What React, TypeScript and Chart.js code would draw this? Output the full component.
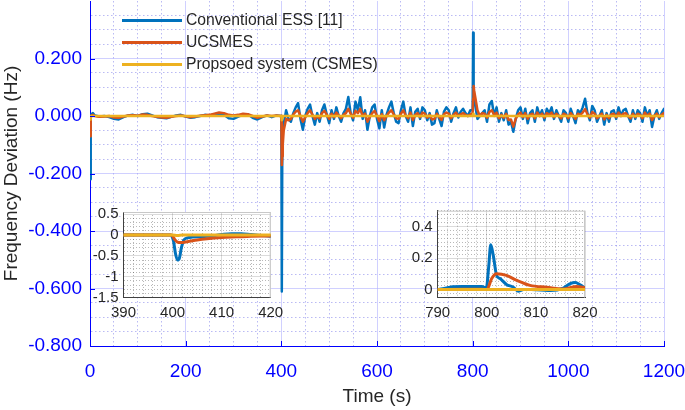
import { useEffect, useRef } from 'react';
import { Chart, registerables } from 'chart.js';

Chart.register(...registerables);

const BLUE = '#0072BD';
const ORANGE = '#D95319';
const YELLOW = '#EDB120';
const AXIS_BLUE = '#0000FF';
const TEXT = '#262626';
const FONT = "'Liberation Sans', Arial, Helvetica, sans-serif";

const legendLabels = ['Conventional ESS [11]', 'UCSMES', 'Propsoed system (CSMES)'];
const xTickLabels = [0, 200, 400, 600, 800, 1000, 1200];
const yTickLabels = [-0.8, -0.6, -0.4, -0.2, 0, 0.2];
const inset1XTicks = [390, 400, 410, 420];
const inset1YTicks = [-1.5, -1, -0.5, 0, 0.5];
const inset2XTicks = [790, 800, 810, 820];
const inset2YTicks = [0, 0.2, 0.4];

// [time (s), deviation (Hz)]
const blueMain: [number, number][] = [
  [0, -0.22], [1, -0.06], [2, 0], [4, 0.008], [6, 0.01], [10, 0.002], [20, -0.002], [30, 0], [40, -0.004],
  [50, -0.01], [60, -0.012], [70, -0.004], [80, 0.002], [90, 0.004], [100, 0], [110, 0.006], [120, 0.008],
  [130, 0.002], [140, -0.004], [150, -0.006], [160, -0.008], [170, -0.003], [180, 0.002], [190, 0.004],
  [200, -0.002], [210, -0.006], [220, -0.004], [230, 0], [240, 0.004], [250, 0.002], [260, 0.006], [270, 0.008],
  [280, 0.004], [290, -0.008], [300, -0.01], [310, -0.002], [320, 0.004], [330, 0.006], [340, -0.006],
  [350, -0.012], [360, -0.004], [370, 0.002], [380, -0.004], [390, 0.002], [399, 0],
  [400, 0], [401, -0.61], [402, -0.1], [403, -0.05], [405, -0.03],
  [410, 0.02], [415, -0.01], [420, -0.02], [425, 0.01], [430, 0.03], [435, 0.045], [440, -0.01], [445, -0.048],
  [450, 0], [455, 0.025], [460, 0.04], [465, 0], [470, -0.03], [475, 0.01], [480, -0.02], [485, 0.02],
  [490, 0.04], [495, 0.005], [500, -0.025], [505, 0.02], [510, -0.01], [515, 0.03], [520, 0], [525, -0.02],
  [530, 0.01], [535, 0.025], [540, 0.066], [545, 0.01], [550, -0.015], [555, 0.05], [560, 0.02], [565, 0.065],
  [570, -0.01], [575, 0.02], [580, -0.048], [585, 0], [590, 0.03], [595, 0.04], [600, -0.01], [605, -0.043],
  [610, 0.02], [615, -0.04], [620, 0.005], [625, 0.03], [630, 0.05], [635, 0.01], [640, -0.02], [645, -0.025],
  [650, 0.02], [655, 0.05], [660, 0], [665, -0.02], [670, 0.03], [675, -0.035], [680, 0.015], [685, 0.025],
  [690, -0.01], [695, 0.03], [700, 0.02], [705, -0.015], [710, 0.01], [715, -0.03], [720, -0.025], [725, 0.02],
  [730, -0.01], [735, -0.035], [740, 0.015], [745, 0.03], [750, 0.02], [755, -0.02], [760, 0.01], [765, 0.03],
  [770, -0.005], [775, 0.015], [780, 0.025], [785, 0.01], [790, 0], [795, 0.02],
  [800, 0.02], [801, 0.29], [802, 0.08], [803, 0.05], [805, 0.04],
  [810, -0.01], [815, 0], [820, 0.01], [825, 0.02], [830, -0.02], [835, 0.04], [840, 0.052], [845, 0],
  [850, 0.03], [855, -0.02], [860, 0.01], [865, -0.015], [870, 0.02], [875, -0.03], [880, -0.02], [885, -0.055],
  [890, -0.01], [895, 0.02], [900, 0.03], [905, -0.01], [910, 0.025], [915, -0.025], [920, 0.01], [925, 0.02],
  [930, -0.02], [935, 0.03], [940, 0], [945, 0.02], [950, -0.015], [955, 0.025], [960, 0.01], [965, 0.03],
  [970, -0.01], [975, 0.02], [980, 0], [985, -0.02], [990, 0.02], [995, 0.01], [1000, -0.02], [1005, 0.025],
  [1010, 0], [1015, -0.025], [1020, 0.02], [1025, 0.01], [1030, 0.03], [1035, 0.06], [1040, 0.01], [1045, -0.015],
  [1050, 0.035], [1055, 0.02], [1060, -0.02], [1065, 0], [1070, 0.02], [1075, -0.03], [1080, 0.01], [1085, -0.02],
  [1090, 0.015], [1095, 0.02], [1100, -0.01], [1105, 0.03], [1110, 0], [1115, 0.02], [1120, 0.025], [1125, 0],
  [1130, -0.02], [1135, 0.02], [1140, -0.01], [1145, 0.02], [1150, 0.01], [1155, -0.02], [1160, 0.03], [1165, 0],
  [1170, 0.02], [1175, -0.038], [1180, 0], [1185, 0.02], [1190, -0.01], [1195, 0.01], [1200, 0.025],
];

const orangeMain: [number, number][] = [
  [0, -0.07], [1, -0.03], [2, -0.005], [4, 0.003], [6, 0.004], [10, 0], [20, -0.003], [30, -0.002], [40, 0],
  [50, -0.005], [60, -0.006], [70, -0.002], [80, 0.002], [90, 0.003], [100, 0.001], [110, 0.005], [120, 0.004],
  [130, 0], [140, -0.003], [150, -0.005], [160, -0.006], [170, -0.003], [180, 0], [190, 0.002], [200, -0.001],
  [210, -0.004], [220, -0.002], [230, 0.001], [240, 0.003], [250, 0.004], [260, 0.008], [270, 0.012], [280, 0.01],
  [290, 0.004], [300, 0.002], [310, 0.004], [320, 0.008], [330, 0.006], [340, 0], [350, -0.006], [360, -0.002],
  [370, 0.002], [380, 0], [390, 0.002], [399, 0],
  [400, 0], [401, -0.17], [402, -0.14], [403, -0.1], [405, -0.05],
  [410, -0.01], [415, -0.015], [420, -0.01], [425, 0.005], [430, 0.015], [435, 0.02], [440, 0], [445, -0.02],
  [450, -0.005], [455, 0.01], [460, 0.02], [465, 0.005], [470, -0.01], [475, 0], [480, -0.008], [485, 0.01],
  [490, 0.018], [495, 0.005], [500, -0.01], [505, 0.008], [510, -0.004], [515, 0.012], [520, 0.002], [525, -0.008],
  [530, 0.004], [535, 0.01], [540, 0.025], [545, 0.008], [550, -0.006], [555, 0.018], [560, 0.01], [565, 0.025],
  [570, 0], [575, 0.008], [580, -0.02], [585, -0.004], [590, 0.01], [595, 0.018], [600, 0], [605, -0.018],
  [610, 0.006], [615, -0.015], [620, 0], [625, 0.012], [630, 0.02], [635, 0.006], [640, -0.008], [645, -0.01],
  [650, 0.008], [655, 0.02], [660, 0.002], [665, -0.008], [670, 0.012], [675, -0.014], [680, 0.004], [685, 0.01],
  [690, -0.004], [695, 0.012], [700, 0.008], [705, -0.006], [710, 0.004], [715, -0.012], [720, -0.01], [725, 0.008],
  [730, -0.004], [735, -0.014], [740, 0.006], [745, 0.012], [750, 0.008], [755, -0.008], [760, 0.004], [765, 0.012],
  [770, 0], [775, 0.006], [780, 0.01], [785, 0.004], [790, 0], [795, 0.005],
  [800, 0.01], [801, 0.06], [802, 0.104], [803, 0.09], [805, 0.07],
  [810, 0.02], [815, 0], [820, 0.01], [825, 0.008], [830, -0.006], [835, 0.014], [840, 0.02], [845, 0.004],
  [850, 0.012], [855, -0.008], [860, 0.004], [865, -0.006], [870, 0.008], [875, -0.014], [880, -0.012], [885, -0.037],
  [890, -0.01], [895, 0.006], [900, 0.012], [905, -0.004], [910, 0.01], [915, -0.01], [920, 0.004], [925, 0.008],
  [930, -0.008], [935, 0.012], [940, 0], [945, 0.008], [950, -0.006], [955, 0.01], [960, 0.004], [965, 0.012],
  [970, -0.004], [975, 0.008], [980, 0], [985, -0.008], [990, 0.008], [995, 0.004], [1000, -0.008], [1005, 0.01],
  [1010, 0], [1015, -0.01], [1020, 0.008], [1025, 0.004], [1030, 0.012], [1035, 0.024], [1040, 0.006], [1045, -0.006],
  [1050, 0.014], [1055, 0.008], [1060, -0.008], [1065, 0], [1070, 0.008], [1075, -0.012], [1080, 0.004], [1085, -0.008],
  [1090, 0.006], [1095, 0.008], [1100, -0.004], [1105, 0.012], [1110, 0], [1115, 0.008], [1120, 0.01], [1125, 0],
  [1130, -0.008], [1135, 0.008], [1140, -0.004], [1145, 0.008], [1150, 0.004], [1155, -0.008], [1160, 0.012], [1165, 0],
  [1170, 0.008], [1175, -0.014], [1180, 0], [1185, 0.008], [1190, -0.004], [1195, 0.004], [1200, 0.01],
];

const yellowMain: [number, number][] = [
  [0, -0.012], [1, -0.004], [2, 0], [400, 0], [401, -0.015], [402, -0.005], [403, 0],
  [800, 0], [801, 0.008], [802, 0.003], [803, 0], [1200, 0],
];

// zoomed views, 390-420 s and 790-820 s
const blueInset1: [number, number][] = [
  [390, 0], [394, 0], [398, 0], [399.6, 0], [400.2, -0.15], [400.6, -0.45], [401, -0.6], [401.4, -0.55],
  [401.8, -0.3], [402.3, -0.12], [403, -0.07], [404, -0.05], [406, -0.04], [408, -0.02], [410, 0.01],
  [412, 0.03], [414, 0.03], [416, 0.01], [418, -0.01], [420, -0.03],
];
const orangeInset1: [number, number][] = [
  [390, 0], [399.8, 0], [400.4, -0.1], [401, -0.17], [401.6, -0.18], [403, -0.16], [405, -0.12], [407, -0.09],
  [410, -0.06], [413, -0.045], [416, -0.03], [420, -0.025],
];
const yellowInset1: [number, number][] = [[390, 0], [400, 0], [401, -0.01], [402, 0], [420, 0]];

const blueInset2: [number, number][] = [
  [790, 0], [791, 0.005], [793, 0.018], [795, 0.02], [797, 0.02], [799, 0.02], [799.9, 0.01], [800.4, 0.15],
  [800.8, 0.285], [801.3, 0.22], [802, 0.09], [802.7, 0.07], [804, 0.033], [805.4, 0.015], [806.4, -0.01],
  [807.5, 0], [809, 0], [811, -0.002], [813, -0.006], [815.6, 0.01], [817, 0.038], [818, 0.045], [819, 0.03],
  [820, 0.01],
];
const orangeInset2: [number, number][] = [
  [790, 0], [795, 0.002], [799, 0.002], [800, 0], [801, 0.07], [802, 0.1], [804, 0.09], [806, 0.06],
  [808.8, 0.027], [812.2, 0.015], [815.6, 0.004], [818.3, 0.02], [820, 0.012],
];
const yellowInset2: [number, number][] = [[790, 0], [820, 0]];

const near = (v: number, list: number[]) => list.some((t) => Math.abs(v - t) < 1e-6);
const pts = (d: [number, number][]) => d.map(([x, y]) => ({ x, y }));

const lineSets = (b: [number, number][], o: [number, number][], y: [number, number][], width: number, smooth: boolean) =>
  [
    { data: pts(b), borderColor: BLUE, order: 3 },
    { data: pts(o), borderColor: ORANGE, order: 2 },
    { data: pts(y), borderColor: YELLOW, order: 1 },
  ].map((s) => ({
    ...s,
    borderWidth: width,
    pointRadius: 0,
    fill: false,
    borderJoinStyle: 'round' as const,
    borderCapStyle: 'round' as const,
    cubicInterpolationMode: smooth ? ('monotone' as const) : ('default' as const),
  }));

const inwardTicks = {
  id: 'inwardTicks',
  afterDraw(chart: Chart) {
    const { ctx, chartArea, scales } = chart;
    ctx.save();
    ctx.strokeStyle = AXIS_BLUE;
    ctx.lineWidth = 1;
    ctx.beginPath();
    xTickLabels.forEach((v) => {
      const px = Math.round(scales.x.getPixelForValue(v)) + 0.5;
      ctx.moveTo(px, chartArea.bottom);
      ctx.lineTo(px, chartArea.bottom - 5);
    });
    yTickLabels.forEach((v) => {
      const py = Math.round(scales.y.getPixelForValue(v)) + 0.5;
      ctx.moveTo(chartArea.left, py);
      ctx.lineTo(chartArea.left + 5, py);
    });
    ctx.stroke();
    ctx.restore();
  },
};

const insetBox = {
  id: 'insetBox',
  beforeDraw(chart: Chart) {
    const { ctx, chartArea: a } = chart;
    ctx.save();
    ctx.fillStyle = '#ffffff';
    ctx.fillRect(a.left, a.top, a.right - a.left, a.bottom - a.top);
    ctx.restore();
  },
  beforeDatasetsDraw(chart: Chart) {
    const { ctx, chartArea: a } = chart;
    ctx.save();
    ctx.strokeStyle = '#c8c8c8';
    ctx.lineWidth = 1;
    ctx.beginPath();
    ctx.moveTo(a.left, a.top + 0.5);
    ctx.lineTo(a.right, a.top + 0.5);
    ctx.moveTo(a.right - 0.5, a.top);
    ctx.lineTo(a.right - 0.5, a.bottom);
    ctx.stroke();
    ctx.restore();
  },
};

function insetConfig(
  b: [number, number][], o: [number, number][], y: [number, number][],
  xMin: number, xMax: number, xTicks: number[],
  yMin: number, yMax: number, yStep: number, yTicks: number[],
  padTop: number, padRight: number, axisWidth: number, axisHeight: number,
): any {
  const tickFont = { family: FONT, size: 15 };
  const gridColor = (major: number[]) => (c: any) =>
    c.tick && near(c.tick.value, major) ? 'rgba(0,0,0,0.14)' : 'rgba(0,0,0,0.28)';
  const gridDash = (major: number[]) => (c: any) => (c.tick && !near(c.tick.value, major) ? [1, 2] : []);
  return {
    type: 'line',
    data: { datasets: lineSets(b, o, y, 3, true) },
    options: {
      animation: false,
      responsive: false,
      events: [],
      layout: { padding: { left: 0, right: padRight, top: padTop, bottom: 0 } },
      plugins: { legend: { display: false }, tooltip: { enabled: false } },
      scales: {
        x: {
          type: 'linear',
          min: xMin,
          max: xMax,
          afterFit: (s: any) => { s.height = axisHeight; s.paddingLeft = 0; s.paddingRight = 0; },
          ticks: {
            stepSize: 2, autoSkip: false, maxRotation: 0, includeBounds: false, padding: 6,
            color: TEXT, font: tickFont,
            callback: (v: number) => (near(v, xTicks) ? String(v) : ''),
          },
          grid: { drawTicks: false, color: gridColor(xTicks), lineWidth: 1 },
          border: { color: '#404040', width: 1, dash: gridDash(xTicks) },
        },
        y: {
          type: 'linear',
          min: yMin,
          max: yMax,
          afterFit: (s: any) => { s.width = axisWidth; s.paddingTop = 0; s.paddingBottom = 0; },
          ticks: {
            stepSize: yStep, autoSkip: false, includeBounds: false, padding: 5,
            color: TEXT, font: tickFont,
            callback: (v: number) => (near(v, yTicks) ? String(Math.round(v * 100) / 100) : ''),
          },
          grid: { drawTicks: false, color: gridColor(yTicks), lineWidth: 1 },
          border: { color: '#404040', width: 1, dash: gridDash(yTicks) },
        },
      },
    },
    plugins: [insetBox],
  };
}

function mainConfig(): any {
  const tickFont = { family: FONT, size: 19 };
  const titleFont = { family: FONT, size: 19 };
  const major = 'rgba(170,170,255,0.55)';
  const minor = 'rgba(130,130,235,0.55)';
  return {
    type: 'line',
    data: { datasets: lineSets(blueMain, orangeMain, yellowMain, 2.5, false) },
    options: {
      animation: false,
      responsive: false,
      events: [],
      layout: { padding: { left: 0, right: 21, top: 1, bottom: 0 } },
      plugins: { legend: { display: false }, tooltip: { enabled: false } },
      scales: {
        x: {
          type: 'linear',
          min: 0,
          max: 1200,
          afterFit: (s: any) => { s.height = 64; s.paddingLeft = 0; s.paddingRight = 0; },
          ticks: {
            stepSize: 50, autoSkip: false, maxRotation: 0, includeBounds: false, padding: 14,
            color: AXIS_BLUE, font: tickFont,
            callback: (v: number) => (near(v, xTickLabels) ? String(v) : ''),
          },
          grid: {
            drawTicks: false, lineWidth: 1,
            color: (c: any) => (c.tick && near(c.tick.value, xTickLabels) ? major : minor),
          },
          border: {
            color: AXIS_BLUE, width: 1,
            dash: (c: any) => (c.tick && !near(c.tick.value, xTickLabels) ? [1.5, 2.5] : []),
          },
          title: { display: true, text: 'Time (s)', color: TEXT, font: titleFont, padding: { top: 0, bottom: 2 } },
        },
        y: {
          type: 'linear',
          min: -0.8,
          max: 0.4,
          afterFit: (s: any) => { s.width = 90; s.paddingTop = 0; s.paddingBottom = 0; },
          ticks: {
            stepSize: 0.05, autoSkip: false, includeBounds: false, padding: 8,
            color: AXIS_BLUE, font: tickFont,
            callback: (v: number) => (near(v, yTickLabels) ? v.toFixed(3) : ''),
          },
          grid: {
            drawTicks: false, lineWidth: 1,
            color: (c: any) => {
              if (!c.tick) return minor;
              if (near(c.tick.value, [0.4])) return 'rgba(0,0,0,0)';
              return near(c.tick.value, yTickLabels) ? major : minor;
            },
          },
          border: {
            color: AXIS_BLUE, width: 1,
            dash: (c: any) => (c.tick && !near(c.tick.value, yTickLabels) ? [1.5, 2.5] : []),
          },
          title: { display: true, text: 'Frequency Deviation (Hz)', color: TEXT, font: titleFont, padding: 0 },
        },
      },
    },
    plugins: [inwardTicks],
  };
}

export default function App() {
  const mainRef = useRef<HTMLCanvasElement>(null);
  const inset1Ref = useRef<HTMLCanvasElement>(null);
  const inset2Ref = useRef<HTMLCanvasElement>(null);

  useEffect(() => {
    if (!mainRef.current || !inset1Ref.current || !inset2Ref.current) return;
    const charts = [
      new Chart(mainRef.current, mainConfig()),
      new Chart(
        inset1Ref.current,
        insetConfig(blueInset1, orangeInset1, yellowInset1, 390, 420, inset1XTicks, -1.5, 0.55, 0.1, inset1YTicks, 12, 19.3, 43.5, 27.3),
      ),
      new Chart(
        inset2Ref.current,
        insetConfig(blueInset2, orangeInset2, yellowInset2, 790, 820, inset2XTicks, -0.05, 0.5, 0.025, inset2YTicks, 10.7, 20, 42.7, 27.5),
      ),
    ];
    return () => charts.forEach((c) => c.destroy());
  }, []);

  const legendColors = [BLUE, ORANGE, YELLOW];
  const legendRows = [20, 42, 64];

  return (
    <div style={{ position: 'fixed', left: 0, top: 0, width: 685, height: 410, background: '#fff', overflow: 'hidden' }}>
      <canvas ref={mainRef} width={685} height={410} style={{ position: 'absolute', left: 0, top: 0 }} />
      <canvas ref={inset1Ref} width={210} height={125} style={{ position: 'absolute', left: 80, top: 200 }} />
      <canvas ref={inset2Ref} width={210} height={125} style={{ position: 'absolute', left: 395, top: 200 }} />
      {legendLabels.map((label, i) => (
        <div key={label}>
          <div
            style={{
              position: 'absolute', left: 122, top: legendRows[i] - 1.5, width: 60, height: 3,
              background: legendColors[i],
            }}
          />
          <div
            style={{
              position: 'absolute', left: 186, top: legendRows[i] - 10, height: 20, lineHeight: '20px',
              fontFamily: FONT, fontSize: 15.7, color: TEXT, whiteSpace: 'nowrap',
            }}
          >
            {label}
          </div>
        </div>
      ))}
    </div>
  );
}
